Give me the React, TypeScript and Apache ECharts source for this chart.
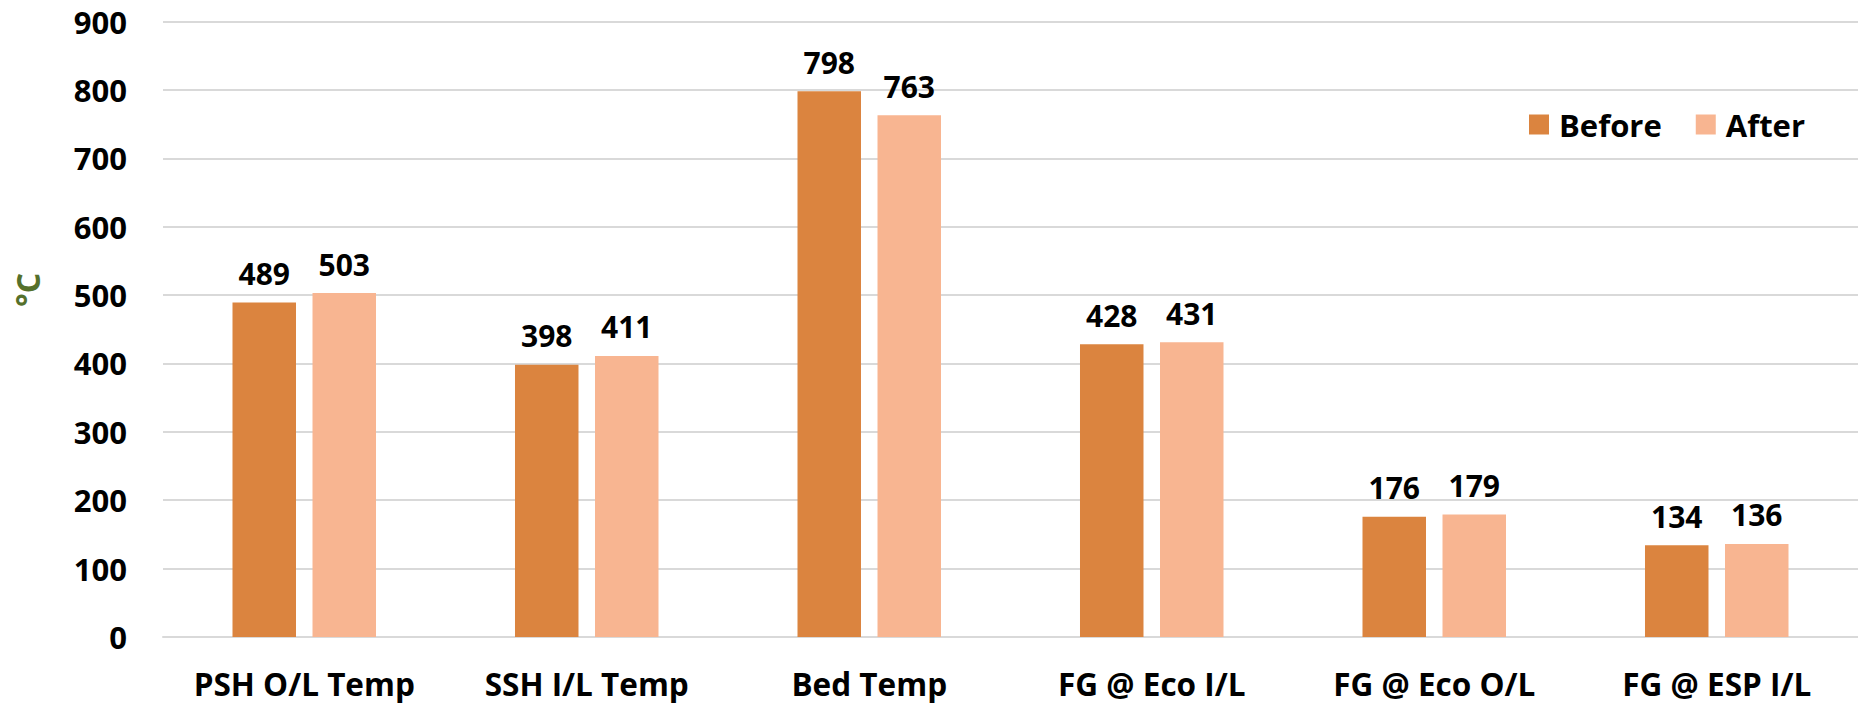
import React, { useEffect, useRef } from "react";
import * as echarts from "echarts";

const categories = ["PSH O/L Temp", "SSH I/L Temp", "Bed Temp", "FG @ Eco I/L", "FG @ Eco O/L", "FG @ ESP I/L"];
const beforeValues = [489, 398, 798, 428, 176, 134];
const afterValues = [503, 411, 763, 431, 179, 136];
const seriesNames = ["Before", "After"];
const yTicks = { min: 0, max: 900, interval: 100 };
const unitName = "°C";

const FONT = "'Open Sans', 'Noto Sans', sans-serif";
const FS = 30;

export default function App() {
  const ref = useRef<HTMLDivElement>(null);
  useEffect(() => {
    document.body.style.margin = "0";
    const chart = echarts.init(ref.current!, null, { renderer: "svg" });
    const labelStyle = {
      show: true,
      position: "top" as const,
      distance: 14,
      fontFamily: FONT,
      fontWeight: "bold" as const,
      fontSize: FS,
      color: "#000",
    };
    chart.setOption({
      animation: false,
      backgroundColor: "#fff",
      grid: { left: 163, right: 0, top: 21.5, bottom: 66, containLabel: false },
      legend: {
        data: seriesNames,
        right: 48,
        top: 104,
        icon: "rect",
        itemWidth: 20,
        itemHeight: 20,
        itemGap: 34,
        textStyle: { fontFamily: FONT, fontWeight: "bold", fontSize: 31, color: "#000", padding: [0, 0, 0, 5] },
      },
      graphic: [
        {
          type: "text",
          x: 27,
          y: 290,
          rotation: Math.PI / 2,
          style: {
            text: unitName,
            align: "center",
            verticalAlign: "middle",
            fontFamily: FONT,
            fontWeight: "bold",
            fontSize: 32,
            fill: "#55702B",
          },
        },
      ],
      xAxis: {
        type: "category",
        data: categories,
        axisLine: { show: true, lineStyle: { color: "#D9D9D9", width: 2 } },
        axisTick: { show: false },
        axisLabel: { interval: 0, margin: 30, fontFamily: FONT, fontWeight: "bold", fontSize: 31.5, color: "#000" },
      },
      yAxis: {
        type: "value",
        min: yTicks.min,
        max: yTicks.max,
        interval: yTicks.interval,
        axisLine: { show: false },
        axisTick: { show: false },
        splitLine: { lineStyle: { color: "#D9D9D9", width: 2 } },
        axisLabel: { margin: 36, fontFamily: FONT, fontWeight: "bold", fontSize: 31, color: "#000" },
      },
      series: [
        {
          name: seriesNames[0],
          type: "bar",
          data: beforeValues,
          barWidth: 63.5,
          barGap: "26%",
          itemStyle: { color: "#DB843F" },
          label: labelStyle,
        },
        {
          name: seriesNames[1],
          type: "bar",
          data: afterValues,
          barWidth: 63.5,
          barGap: "26%",
          itemStyle: { color: "#F8B591" },
          label: labelStyle,
        },
      ],
    });
    return () => chart.dispose();
  }, []);
  return <div ref={ref} style={{ width: 1858, height: 703 }} />;
}
